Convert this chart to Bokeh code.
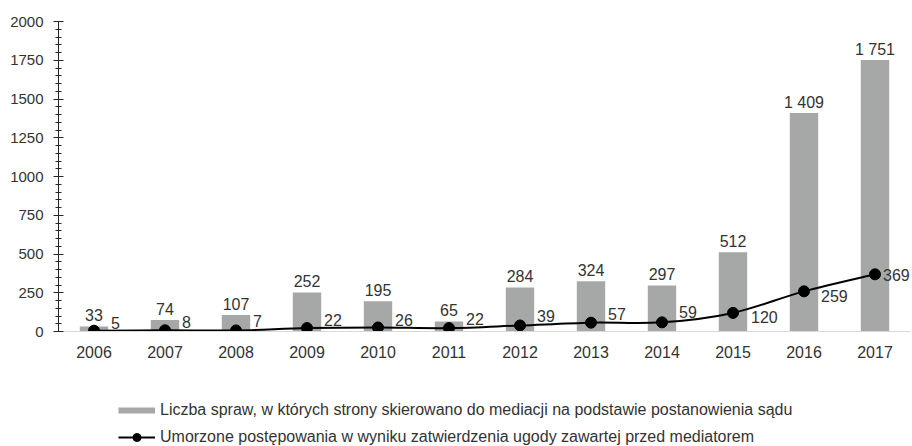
from bokeh.plotting import figure
from bokeh.layouts import column
from bokeh.models import (ColumnDataSource, Range1d, FixedTicker, SingleIntervalTicker,
                          Legend, LegendItem)
from bokeh.core.properties import value
from bokeh.embed import file_html
from bokeh.resources import INLINE

# ---- data ----
years = ["2006", "2007", "2008", "2009", "2010", "2011",
         "2012", "2013", "2014", "2015", "2016", "2017"]
referred = [33, 74, 107, 252, 195, 65, 284, 324, 297, 512, 1409, 1751]
discontinued = [5, 8, 7, 22, 26, 22, 39, 57, 59, 120, 259, 369]
y_ticks_major = 250
legend_labels = [
    "Liczba spraw, w których strony skierowano do mediacji na podstawie postanowienia sądu",
    "Umorzone postępowania w wyniku zatwierdzenia ugody zawartej przed mediatorem",
]

# label placement styles (screen pixels)
line_lbl_dx = [17, 17, 17, 17, 17, 17, 17, 17, 17, 18, 17, 8]
line_lbl_dy = [-8, -8, -9, -8, -7, -9, -9, -9, -10, 4, 5, 1]

FONT = "Liberation Sans"
TXT = "#333333"
BAR = "#a6a8a8"

idx = list(range(len(years)))

def fmt(v):
    return f"{v:,}".replace(",", " ")

p = figure(width=912, height=360, output_backend="svg", toolbar_location=None,
           x_range=Range1d(-0.5, len(years) - 0.5), y_range=Range1d(0, 2000),
           min_border_left=58, min_border_right=2, min_border_top=21,
           min_border_bottom=26)
p.outline_line_color = None
p.xgrid.visible = False
p.ygrid.visible = False
p.background_fill_color = "white"

bar_src = ColumnDataSource(dict(x=idx, top=referred, lbl=[fmt(v) for v in referred]))
p.vbar(x="x", top="top", width=0.4, source=bar_src, fill_color=BAR, line_color=None)
p.text(x="x", y="top", text="lbl", source=bar_src, text_align="center",
       text_baseline="alphabetic", y_offset=-11, text_font=value(FONT),
       text_font_size="16px", text_color=TXT)

# smoothed line through the points (Catmull-Rom style Bezier segments)
n = len(idx)
x0, y0, x1, y1, cx0, cy0, cx1, cy1 = [], [], [], [], [], [], [], []
for i in range(n - 1):
    pm = (idx[max(i - 1, 0)], discontinued[max(i - 1, 0)])
    pa = (idx[i], discontinued[i])
    pb = (idx[i + 1], discontinued[i + 1])
    pn = (idx[min(i + 2, n - 1)], discontinued[min(i + 2, n - 1)])
    x0.append(pa[0]); y0.append(pa[1]); x1.append(pb[0]); y1.append(pb[1])
    cx0.append(pa[0] + (pb[0] - pm[0]) / 6); cy0.append(pa[1] + (pb[1] - pm[1]) / 6)
    cx1.append(pb[0] - (pn[0] - pa[0]) / 6); cy1.append(pb[1] - (pn[1] - pa[1]) / 6)
bz = ColumnDataSource(dict(x0=x0, y0=y0, x1=x1, y1=y1, cx0=cx0, cy0=cy0, cx1=cx1, cy1=cy1))
p.bezier(x0="x0", y0="y0", x1="x1", y1="y1", cx0="cx0", cy0="cy0", cx1="cx1", cy1="cy1",
         source=bz, line_color="black", line_width=2)

pt_src = ColumnDataSource(dict(x=idx, y=discontinued, lbl=[fmt(v) for v in discontinued],
                               dx=line_lbl_dx, dy=line_lbl_dy))
p.scatter(x="x", y="y", source=pt_src, size=11, fill_color="black", line_color="black")
p.text(x="x", y="y", text="lbl", source=pt_src, x_offset="dx", y_offset="dy",
       text_align="left", text_baseline="middle", text_font=value(FONT),
       text_font_size="16px", text_color=TXT)

# axes
p.xaxis.ticker = FixedTicker(ticks=idx)
p.xaxis.major_label_overrides = {i: y for i, y in zip(idx, years)}
p.xaxis.axis_line_color = "#d9d9d9"
p.xaxis.major_tick_line_color = None
p.xaxis.minor_tick_line_color = None
p.xaxis.major_label_standoff = 8
p.xaxis.major_label_text_font = FONT
p.xaxis.major_label_text_font_size = "16px"
p.xaxis.major_label_text_color = TXT

p.yaxis.ticker = SingleIntervalTicker(interval=y_ticks_major, num_minor_ticks=5)
p.yaxis.axis_line_color = "#262626"
p.yaxis.major_tick_line_color = "#262626"
p.yaxis.minor_tick_line_color = "#262626"
p.yaxis.major_tick_in = 5
p.yaxis.major_tick_out = 5
p.yaxis.minor_tick_in = 3
p.yaxis.minor_tick_out = 3
p.yaxis.major_label_standoff = 10
p.yaxis.major_label_text_font = FONT
p.yaxis.major_label_text_font_size = "15px"
p.yaxis.major_label_text_color = TXT

# ---- legend strip (separate figure below the chart) ----
lg = figure(width=912, height=86, output_backend="svg", toolbar_location=None,
            x_range=Range1d(0, 1), y_range=Range1d(0, 1),
            x_axis_type=None, y_axis_type=None,
            min_border_left=0, min_border_right=0, min_border_top=0, min_border_bottom=0)
lg.outline_line_color = None
lg.xgrid.visible = False
lg.ygrid.visible = False

# proxy renderers: one NaN row so the legend has style values but nothing is drawn
nan = float("nan")
proxy = ColumnDataSource(dict(x=[nan], y=[nan]))
leg_bar = lg.line(x="x", y="y", source=proxy, line_color=BAR, line_width=6, line_cap="butt")
leg_line = lg.line(x="x", y="y", source=proxy, line_color="black", line_width=2)
leg_pt = lg.scatter(x="x", y="y", source=proxy, size=8, fill_color="black", line_color="black")

legend = Legend(items=[LegendItem(label=legend_labels[0], renderers=[leg_bar]),
                       LegendItem(label=legend_labels[1], renderers=[leg_line, leg_pt])],
                location=(60, -1), orientation="vertical",
                glyph_width=37, glyph_height=20, label_height=20, label_standoff=5,
                spacing=7, padding=0, margin=0, border_line_color=None,
                background_fill_alpha=0,
                label_text_font=FONT, label_text_font_size="16px", label_text_color=TXT)
lg.add_layout(legend)

layout = column(p, lg, spacing=0)
open("out.html", "w").write(file_html(layout, INLINE))
